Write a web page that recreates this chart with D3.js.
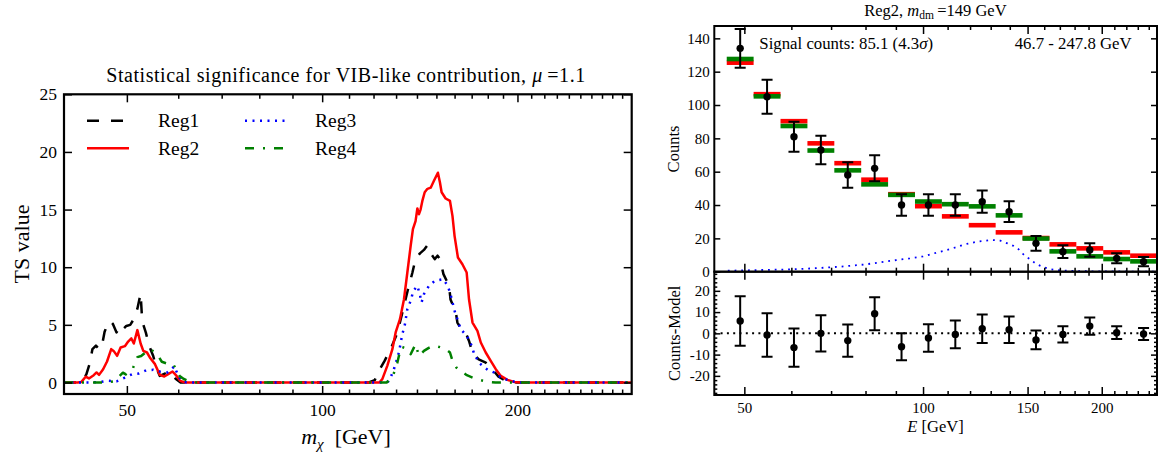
<!DOCTYPE html>
<html><head><meta charset="utf-8">
<script src="https://cdn.jsdelivr.net/npm/d3@7"></script>
<style>
body{margin:0;background:#fff}
svg{display:block}
text{font-family:"Liberation Serif","Times New Roman",serif;fill:#000}
</style>
</head><body>
<svg id="c" width="1167" height="452"></svg>
<script>
// ---------------- DATA (left panel: TS vs mass) ----------------
const reg1 = [[40,0],[42.2,0],[42.8,0.2],[43.3,0.7],[43.8,1.6],[44.25,2.9],[44.8,3.2],[45.3,2.9],[45.7,3.0],[46.2,4.4],[46.8,5.2],[47.2,5.3],[47.6,5.06],[48.2,4.34],[48.8,4.9],[49.3,4.6],[49.9,4.9],[50.6,5.0],[51.25,5.5],[51.9,6.4],[52.5,7.7],[52.8,5.3],[53.5,4.3],[54.1,3.2],[54.9,2.3],[55.5,1.3],[56.2,0.57],[57.1,0.75],[57.9,0.9],[58.8,0.8],[59.5,0.3],[60.5,0],
  [118,0],[120.5,0.2],[122.3,1.0],[124.8,1.87],[127.5,2.9],[130.6,4.3],[133.5,6.5],[135.5,8.0],[137.7,9.5],[139.3,10.7],[141.5,11.2],[143.5,11.5],[145.3,11.9],[147.0,11.2],[149.1,10.7],[150.6,11.0],[151.9,10.7],[153.8,9.4],[156.9,8.4],[157.7,7.2],[160.7,6.1],[161.6,5.2],[164,4.6],[166.5,4.3],[168.4,3.6],[170.5,2.6],[174.3,2.0],[178.7,1.73],[183.0,1.15],[187,0.5],[192,0.15],[197,0],[300,0]];
const reg2 = [[40,0],[42.0,0],[42.55,0.05],[43.2,0.5],[43.7,0.35],[44.45,0.63],[44.9,0.87],[45.3,0.66],[45.96,1.15],[46.6,1.82],[47.3,2.89],[47.7,2.74],[48.3,2.31],[48.9,3.03],[49.65,3.15],[50.23,3.55],[50.8,3.82],[51.25,3.38],[51.9,4.54],[52.5,3.38],[53.0,2.74],[53.7,2.6],[54.35,2.1],[55.25,1.59],[56.2,0.66],[57.1,0.52],[57.9,0.72],[58.8,0.95],[59.65,0.57],[60.4,0.14],[61.5,0],
  [122.5,0],[123.8,0.29],[126.0,1.44],[128.3,2.89],[129.8,4.34],[131.8,5.49],[133.7,7.22],[135.3,9.54],[136.9,11.85],[138.0,13.3],[139.3,14.0],[140.2,15.1],[141.0,14.6],[141.8,15.0],[142.7,15.75],[143.9,16.5],[145.3,16.8],[147.0,16.9],[148.7,17.5],[150.8,18.2],[151.9,17.35],[152.8,16.5],[155.0,15.96],[157.4,15.75],[158.8,14.45],[160.0,12.7],[161.9,10.84],[164.5,10.26],[167.0,9.54],[168.4,7.22],[170.5,5.2],[173.5,4.48],[175.6,3.47],[178.7,2.6],[181.9,1.87],[185.2,1.15],[188.5,0.57],[193.0,0.23],[197.6,0.05],[202,0],[300,0]];
const reg3 = [[40,0],[44,0],[45.5,0.05],[46.8,0.15],[48.2,0.1],[49.65,0.43],[50.95,0.72],[52.2,0.78],[53.6,1.07],[54.9,1.1],[56.2,0.95],[57.7,0.87],[59.2,1.4],[60.0,0.57],[60.7,0.14],[61.8,0],
  [125.5,0],[126.5,0.1],[127.5,0.43],[129.0,1.15],[131.3,2.6],[132.9,4.19],[134.0,4.9],[135.3,6.36],[136.9,7.08],[138.2,7.94],[140.2,8.38],[141.4,7.66],[142.3,6.94],[143.5,7.66],[146.1,8.38],[149.1,8.81],[153.7,8.96],[156.2,8.38],[157.7,7.66],[160.0,6.21],[163.5,4.62],[167.1,4.04],[169.6,3.32],[171.6,2.45],[174.7,1.67],[180.0,1.09],[184.0,0.87],[189.5,0.37],[195.0,0.14],[200.5,0],[300,0]];
const reg4 = [[40,0],[46.5,0],[47.8,0.1],[48.6,0.5],[49.3,0.85],[49.8,0.7],[50.95,1.07],[51.9,2.2],[52.6,2.3],[53.4,2.6],[54.2,2.9],[55.0,2.7],[55.6,2.5],[56.6,1.8],[57.6,1.65],[58.3,1.7],[59.0,1.55],[59.7,1.0],[60.3,0.55],[61.2,0.3],[62.3,0.12],[64.0,0],
  [125.7,0],[128.3,0.43],[130.6,1.73],[131.3,2.3],[132.6,3.1],[133.6,3.03],[135.6,2.9],[136.9,2.45],[139.3,3.32],[141.0,2.3],[143.5,2.74],[146.0,3.0],[148.7,3.2],[152.3,3.05],[155.0,2.9],[157.4,2.6],[159.0,1.8],[161.0,1.3],[163.5,1.0],[167.1,0.63],[171,0.4],[174.7,0.23],[180,0.05],[185,0],[300,0]];
const regionNames = ["Reg1","Reg2","Reg3","Reg4"];
const xTicksLeft = [50,100,200];
const xMinorLeft = [60,70,80,90,110,120,130,140,150,160,170,180,190,210,220,230,240,250,260,270,280,290];
const yTicksLeft = [0,5,10,15,20,25];

// ---------------- DATA (right panel: spectrum fit) ----------------
const binEdges = [46.70,51.83,57.53,63.86,70.88,78.67,87.32,96.92,107.58,119.40,132.53,147.10,163.27,181.22,201.15,223.27,247.80];
const counts   = [134,105,81,73,58,62,40,40,40,42,36,17,12,13,8,6];
const countErr = [11.6,10.2,9.0,8.5,7.6,7.8,6.4,6.5,6.5,6.7,6.2,4.4,3.8,4.0,3.0,2.8];
const bkgModel = [125.4,106.5,90.3,77.0,65.1,55.2,46.5,39.3,33.2,27.9,23.6,20.2,16.4,14.0,11.6,9.6];
const fitModel = [127.6,105.2,87.4,72.7,60.8,52.4,46.1,42.1,40.5,39.2,33.8,19.9,12.2,9.2,7.6,6.2];
const residual = [5.8,-0.8,-6.7,0.0,-3.4,9.2,-6.3,-2.2,-0.5,2.2,1.7,-3.1,-0.5,3.4,0.3,-0.3];
const signalLine = [[46.9,0.6],[53,1.0],[60.1,1.4],[66,2.1],[72.4,3.0],[80.1,4.4],[90.2,7.0],[95.0,8.0],[100.0,9.2],[105.3,11.4],[111.3,13.6],[117.5,16.4],[124.1,18.2],[131.1,19.0],[135.0,18.6],[138.7,17.0],[142.2,15.4],[145.4,13.0],[148.3,9.6],[151.6,7.4],[155.1,4.6],[159.2,2.8],[163.3,1.6],[167.7,1.0],[173.1,0.6],[185,0.3],[200,0.15],[247.8,0.05]];
const xTicksRight = [50,100,150,200];
const xMinorRight = [60,70,80,90,110,120,130,140,160,170,180,190,210,220,230,240];
const yTicksTop = [0,20,40,60,80,100,120,140];
const yTicksRes = [-20,-10,0,10,20];
const yMinorRes = [-28,-26,-24,-22,-18,-16,-14,-12,-8,-6,-4,-2,2,4,6,8,12,14,16,18,22,24,26,28];

// ---------------- DRAW ----------------
const svg = d3.select("#c");
const defs = svg.append("defs");

function styleAxis(g, fs){
  g.select(".domain").remove();
  g.selectAll(".tick line").attr("stroke","#000").attr("stroke-width",1.5);
  g.selectAll("text").attr("font-family",'"Liberation Serif",serif').attr("font-size",fs).attr("fill","#000");
  g.attr("font-family",null).attr("font-size",null);
}

// ===== LEFT =====
const L = {l:64, r:631.7, t:94.3, b:394};
const xL = d3.scaleLog().domain([40,300]).range([L.l,L.r]);
const yL = d3.scaleLinear().domain([-1,25]).range([L.b,L.t]);
defs.append("clipPath").attr("id","clipL").append("rect")
  .attr("x",L.l).attr("y",L.t).attr("width",L.r-L.l).attr("height",L.b-L.t);

const styles = [
  {data:reg1, color:"#000000", dash:"12,12"},
  {data:reg2, color:"#ff0000", dash:null},
  {data:reg3, color:"#0000ff", dash:"2,5.5"},
  {data:reg4, color:"#008000", dash:"9,9,2,9"}
];
const lineL = d3.line().x(d=>xL(d[0])).y(d=>yL(d[1]));
const gLines = svg.append("g").attr("clip-path","url(#clipL)");
styles.forEach(s=>{
  gLines.append("path").datum(s.data).attr("d",lineL)
    .attr("fill","none").attr("stroke",s.color).attr("stroke-width",2.5)
    .attr("stroke-dasharray",s.dash).attr("stroke-linejoin","round");
});

// axes left
let g;
g = svg.append("g").attr("transform",`translate(0,${L.b})`)
  .call(d3.axisBottom(xL).tickValues(xTicksLeft).tickFormat(d3.format("d")).tickSizeInner(-8).tickSizeOuter(0).tickPadding(10));
styleAxis(g,17.5);
g = svg.append("g").attr("transform",`translate(0,${L.b})`)
  .call(d3.axisBottom(xL).tickValues(xMinorLeft).tickFormat("").tickSizeInner(-4.5).tickSizeOuter(0));
styleAxis(g,17.5);
g = svg.append("g").attr("transform",`translate(0,${L.t})`)
  .call(d3.axisTop(xL).tickValues(xTicksLeft).tickFormat("").tickSizeInner(-8).tickSizeOuter(0));
styleAxis(g,17.5);
g = svg.append("g").attr("transform",`translate(0,${L.t})`)
  .call(d3.axisTop(xL).tickValues(xMinorLeft).tickFormat("").tickSizeInner(-4.5).tickSizeOuter(0));
styleAxis(g,17.5);
g = svg.append("g").attr("transform",`translate(${L.l},0)`)
  .call(d3.axisLeft(yL).tickValues(yTicksLeft).tickFormat(d3.format("d")).tickSizeInner(-8).tickSizeOuter(0).tickPadding(7));
styleAxis(g,17.5);
g = svg.append("g").attr("transform",`translate(${L.r},0)`)
  .call(d3.axisRight(yL).tickValues(yTicksLeft).tickFormat("").tickSizeInner(-8).tickSizeOuter(0));
styleAxis(g,17.5);

svg.append("rect").attr("x",L.l).attr("y",L.t).attr("width",L.r-L.l).attr("height",L.b-L.t)
  .attr("fill","none").attr("stroke","#000").attr("stroke-width",2.2);

// title
const tL = svg.append("text").attr("x",(103+589)/2).attr("y",82).attr("text-anchor","middle")
  .attr("font-size",20).attr("letter-spacing",0.55);
tL.append("tspan").text("Statistical significance for VIB-like contribution, ");
tL.append("tspan").attr("font-style","italic").text("μ");
tL.append("tspan").text("\u2009=1.1");

// axis labels
const xlab = svg.append("text").attr("x",346).attr("y",444).attr("text-anchor","middle").attr("font-size",22);
xlab.append("tspan").attr("font-style","italic").text("m");
xlab.append("tspan").attr("font-style","italic").attr("font-size",15).attr("dy",5).text("χ");
xlab.append("tspan").attr("dy",-5).text("\u2002[GeV]");
svg.append("text").attr("transform",`translate(28.5,244) rotate(-90)`).attr("text-anchor","middle")
  .attr("font-size",22).text("TS value");

// legend
const legPos = [{x:87,y:120.7,tx:158},{x:87,y:148.3,tx:158},{x:245,y:120.7,tx:315},{x:245,y:148.3,tx:315}];
styles.forEach((s,i)=>{
  const p = legPos[i];
  svg.append("line").attr("x1",p.x).attr("x2",p.x+42).attr("y1",p.y).attr("y2",p.y)
    .attr("stroke",s.color).attr("stroke-width",2.5).attr("stroke-dasharray",s.dash);
  svg.append("text").attr("x",p.tx).attr("y",p.y+6.5).attr("font-size",19.5).text(regionNames[i]);
});

// ===== RIGHT =====
const R = {l:714.3, r:1157, t:26, m:271.7, b:395};
const xR = d3.scaleLog().domain([44.5,247.8]).range([R.l,R.r]);
const yT = d3.scaleLinear().domain([0,147.4]).range([R.m,R.t]);
const yB = d3.scaleLinear().domain([-29,29]).range([R.b,R.m]);
defs.append("clipPath").attr("id","clipT").append("rect")
  .attr("x",R.l).attr("y",R.t).attr("width",R.r-R.l).attr("height",R.m-R.t);
defs.append("clipPath").attr("id","clipB").append("rect")
  .attr("x",R.l).attr("y",R.m).attr("width",R.r-R.l).attr("height",R.b-R.m);

const bins = counts.map((c,i)=>({lo:binEdges[i], hi:binEdges[i+1], c, e:countErr[i], bkg:bkgModel[i], fit:fitModel[i], res:residual[i]}));
const center = d=>Math.sqrt(d.lo*d.hi);
const barH = 4.6;
const gT = svg.append("g").attr("clip-path","url(#clipT)");
gT.selectAll("rect.bkg").data(bins).join("rect").attr("class","bkg")
  .attr("x",d=>xR(d.lo)).attr("width",d=>xR(d.hi)-xR(d.lo))
  .attr("y",d=>yT(d.bkg)-barH/2).attr("height",barH).attr("fill","#ff0000");
gT.selectAll("rect.fit").data(bins).join("rect").attr("class","fit")
  .attr("x",d=>xR(d.lo)).attr("width",d=>xR(d.hi)-xR(d.lo))
  .attr("y",d=>yT(d.fit)-barH/2).attr("height",barH).attr("fill","#008000");
gT.append("path").datum(signalLine)
  .attr("d",d3.line().x(d=>xR(d[0])).y(d=>yT(d[1])))
  .attr("fill","none").attr("stroke","#0000ff").attr("stroke-width",1.8).attr("stroke-dasharray","1.8,4.9");

function errorBars(gp, ys, valF){
  const cap = 5.5;
  const e = gp.selectAll("g.eb").data(bins).join("g").attr("class","eb");
  e.append("line").attr("x1",d=>xR(center(d))).attr("x2",d=>xR(center(d)))
    .attr("y1",d=>ys(valF(d)-d.e)).attr("y2",d=>ys(valF(d)+d.e)).attr("stroke","#000").attr("stroke-width",2);
  e.append("line").attr("x1",d=>xR(center(d))-cap).attr("x2",d=>xR(center(d))+cap)
    .attr("y1",d=>ys(valF(d)+d.e)).attr("y2",d=>ys(valF(d)+d.e)).attr("stroke","#000").attr("stroke-width",2);
  e.append("line").attr("x1",d=>xR(center(d))-cap).attr("x2",d=>xR(center(d))+cap)
    .attr("y1",d=>ys(valF(d)-d.e)).attr("y2",d=>ys(valF(d)-d.e)).attr("stroke","#000").attr("stroke-width",2);
  e.append("circle").attr("cx",d=>xR(center(d))).attr("cy",d=>ys(valF(d))).attr("r",3.7).attr("fill","#000");
}
errorBars(gT, yT, d=>d.c);

const gB = svg.append("g").attr("clip-path","url(#clipB)");
gB.append("line").attr("x1",R.l).attr("x2",R.r).attr("y1",yB(0)).attr("y2",yB(0))
  .attr("stroke","#000").attr("stroke-width",2).attr("stroke-dasharray","2,4.3");
errorBars(gB, yB, d=>d.res);

// right axes: x
const fsR = 15;
[[R.m,"mid"],[R.b,"bottom"]].forEach(([yy,kind])=>{
  g = svg.append("g").attr("transform",`translate(0,${yy})`)
    .call(d3.axisBottom(xR).tickValues(xTicksRight).tickFormat(kind==="bottom"?d3.format("d"):"").tickSizeInner(-8).tickSizeOuter(0).tickPadding(7.5));
  styleAxis(g,fsR);
  g = svg.append("g").attr("transform",`translate(0,${yy})`)
    .call(d3.axisBottom(xR).tickValues(xMinorRight).tickFormat("").tickSizeInner(-4).tickSizeOuter(0));
  styleAxis(g,fsR);
});
[R.t,R.m].forEach(yy=>{
  g = svg.append("g").attr("transform",`translate(0,${yy})`)
    .call(d3.axisTop(xR).tickValues(xTicksRight).tickFormat("").tickSizeInner(-8).tickSizeOuter(0));
  styleAxis(g,fsR);
  g = svg.append("g").attr("transform",`translate(0,${yy})`)
    .call(d3.axisTop(xR).tickValues(xMinorRight).tickFormat("").tickSizeInner(-4).tickSizeOuter(0));
  styleAxis(g,fsR);
});
// right axes: y
g = svg.append("g").attr("transform",`translate(${R.l},0)`)
  .call(d3.axisLeft(yT).tickValues(yTicksTop).tickFormat(d3.format("d")).tickSizeInner(-6).tickSizeOuter(0).tickPadding(4.5));
styleAxis(g,fsR);
g = svg.append("g").attr("transform",`translate(${R.r},0)`)
  .call(d3.axisRight(yT).tickValues(yTicksTop).tickFormat("").tickSizeInner(-6).tickSizeOuter(0));
styleAxis(g,fsR);
g = svg.append("g").attr("transform",`translate(${R.l},0)`)
  .call(d3.axisLeft(yB).tickValues(yTicksRes).tickFormat(d=>String(d)).tickSizeInner(-6).tickSizeOuter(0).tickPadding(4.5));
styleAxis(g,fsR);
g = svg.append("g").attr("transform",`translate(${R.l},0)`)
  .call(d3.axisLeft(yB).tickValues(yMinorRes).tickFormat("").tickSizeInner(-3).tickSizeOuter(0));
styleAxis(g,fsR);
g = svg.append("g").attr("transform",`translate(${R.r},0)`)
  .call(d3.axisRight(yB).tickValues(yTicksRes).tickFormat("").tickSizeInner(-6).tickSizeOuter(0));
styleAxis(g,fsR);
g = svg.append("g").attr("transform",`translate(${R.r},0)`)
  .call(d3.axisRight(yB).tickValues(yMinorRes).tickFormat("").tickSizeInner(-3).tickSizeOuter(0));
styleAxis(g,fsR);

svg.append("rect").attr("x",R.l).attr("y",R.t).attr("width",R.r-R.l).attr("height",R.m-R.t)
  .attr("fill","none").attr("stroke","#000").attr("stroke-width",2);
svg.append("rect").attr("x",R.l).attr("y",R.m).attr("width",R.r-R.l).attr("height",R.b-R.m)
  .attr("fill","none").attr("stroke","#000").attr("stroke-width",2);

// right texts
const tR = svg.append("text").attr("x",935.4).attr("y",15.5).attr("text-anchor","middle").attr("font-size",16.5);
tR.append("tspan").text("Reg2, ");
tR.append("tspan").attr("font-style","italic").text("m");
tR.append("tspan").attr("font-size",11.5).attr("dy",3).text("dm");
tR.append("tspan").attr("dy",-3).text("\u2009=149 GeV");

const sc = svg.append("text").attr("x",759.3).attr("y",49).attr("font-size",16.8);
sc.append("tspan").text("Signal counts: 85.1 (4.3");
sc.append("tspan").attr("font-style","italic").text("σ");
sc.append("tspan").text(")");
svg.append("text").attr("x",1131.7).attr("y",49).attr("text-anchor","end").attr("font-size",16.8).text("46.7 - 247.8 GeV");

svg.append("text").attr("transform",`translate(679,149) rotate(-90)`).attr("text-anchor","middle").attr("font-size",16.5).text("Counts");
svg.append("text").attr("transform",`translate(679.5,333.3) rotate(-90)`).attr("text-anchor","middle").attr("font-size",16.5).text("Counts-Model");
const exl = svg.append("text").attr("x",935.5).attr("y",432).attr("text-anchor","middle").attr("font-size",16.5);
exl.append("tspan").attr("font-style","italic").text("E");
exl.append("tspan").text(" [GeV]");
</script>
</body></html>
